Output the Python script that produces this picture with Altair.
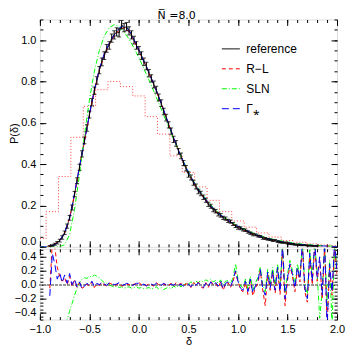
import altair as alt
import pandas as pd

FONT = "Liberation Sans"

# ---------------- data ----------------
model_x = [round(-1.0 + 0.05 * i, 3) for i in range(61)]
rl_y = [0, 0, 0.003, 0.014, 0.033, 0.068, 0.140, 0.255, 0.390, 0.510,
        0.635, 0.755, 0.855, 0.925, 0.980, 1.020, 1.050, 1.060, 1.040, 0.998,
        0.950, 0.895, 0.842, 0.785, 0.725, 0.660, 0.593, 0.527, 0.465, 0.410,
        0.360, 0.315, 0.276, 0.242, 0.211, 0.185, 0.161, 0.141, 0.124, 0.109,
        0.095, 0.083, 0.072, 0.062, 0.054, 0.046, 0.039, 0.033, 0.028, 0.023,
        0.019, 0.016, 0.013, 0.010, 0.008, 0.006, 0.005, 0.004, 0.003, 0.002,
        0.001]
sln_y = [0, 0, 0, 0, 0.001, 0.010, 0.060, 0.180, 0.350, 0.540,
         0.710, 0.850, 0.950, 1.020, 1.060, 1.075, 1.065, 1.040, 1.005, 0.962,
         0.915, 0.862, 0.808, 0.752, 0.695, 0.637, 0.580, 0.522, 0.466, 0.413,
         0.364, 0.320, 0.282, 0.248, 0.217, 0.190, 0.166, 0.146, 0.129, 0.114,
         0.100, 0.088, 0.077, 0.067, 0.058, 0.050, 0.043, 0.037, 0.032, 0.027,
         0.023, 0.019, 0.016, 0.013, 0.011, 0.009, 0.007, 0.005, 0.004, 0.003,
         0.002]
gam_y = [0, 0, 0.002, 0.010, 0.030, 0.070, 0.140, 0.260, 0.390, 0.510,
         0.640, 0.760, 0.860, 0.935, 0.985, 1.025, 1.058, 1.068, 1.048, 1.003,
         0.952, 0.898, 0.845, 0.787, 0.727, 0.662, 0.595, 0.528, 0.466, 0.411,
         0.361, 0.317, 0.278, 0.244, 0.213, 0.187, 0.163, 0.145, 0.128, 0.113,
         0.099, 0.087, 0.075, 0.064, 0.055, 0.047, 0.040, 0.034, 0.029, 0.024,
         0.020, 0.016, 0.013, 0.011, 0.009, 0.007, 0.005, 0.004, 0.003, 0.002,
         0.001]

ref_x = [round(-0.9 + 0.025 * i, 3) for i in range(109)]
ref_y = [0.003, 0.006, 0.012, 0.020, 0.030, 0.045, 0.068, 0.100,
         0.140, 0.190, 0.255, 0.320, 0.385, 0.450, 0.515, 0.575,
         0.640, 0.700, 0.755, 0.805, 0.855, 0.895, 0.925, 0.960,
         0.975, 1.010, 1.025, 1.040, 1.035, 1.075, 1.060, 1.065,
         1.045, 1.025, 1.000, 0.975, 0.950, 0.925, 0.895, 0.875,
         0.840, 0.815, 0.785, 0.760, 0.722, 0.695, 0.655, 0.625,
         0.590, 0.560, 0.520, 0.500, 0.462, 0.440, 0.405, 0.380,
         0.350, 0.335, 0.310, 0.292, 0.268, 0.258, 0.240, 0.225,
         0.205, 0.196, 0.178, 0.172, 0.158, 0.152, 0.140, 0.136,
         0.125, 0.122, 0.110, 0.100, 0.092, 0.090, 0.082, 0.080,
         0.072, 0.066, 0.060, 0.058, 0.052, 0.050, 0.042, 0.040,
         0.036, 0.034, 0.030, 0.031, 0.025, 0.022, 0.020, 0.020,
         0.016, 0.014, 0.013, 0.010, 0.011, 0.008, 0.007, 0.008,
         0.005, 0.005, 0.004, 0.004, 0.003]
ref_err = [0.003, 0.004, 0.005, 0.006, 0.007, 0.008, 0.009, 0.010,
           0.011, 0.012, 0.013, 0.014, 0.015, 0.015, 0.016, 0.016,
           0.017, 0.017, 0.018, 0.018, 0.018, 0.019, 0.019, 0.019,
           0.019, 0.020, 0.020, 0.020, 0.020, 0.020, 0.020, 0.020,
           0.020, 0.020, 0.019, 0.019, 0.019, 0.019, 0.018, 0.018,
           0.018, 0.018, 0.017, 0.017, 0.017, 0.016, 0.016, 0.016,
           0.015, 0.015, 0.015, 0.014, 0.014, 0.014, 0.013, 0.013,
           0.013, 0.012, 0.012, 0.012, 0.011, 0.011, 0.011, 0.010,
           0.010, 0.010, 0.009, 0.009, 0.009, 0.009, 0.008, 0.008,
           0.008, 0.008, 0.007, 0.007, 0.007, 0.007, 0.006, 0.006,
           0.006, 0.006, 0.006, 0.005, 0.005, 0.005, 0.005, 0.005,
           0.004, 0.004, 0.004, 0.004, 0.004, 0.004, 0.003, 0.003,
           0.003, 0.003, 0.003, 0.003, 0.003, 0.002, 0.002, 0.002,
           0.002, 0.002, 0.002, 0.002, 0.002]

hist_edges = [-1.0, -0.9375, -0.8125, -0.6875, -0.5625, -0.4375, -0.3125, -0.1875,
              -0.0625, 0.0625, 0.1875, 0.3125, 0.4375, 0.5625, 0.6875, 0.8125,
              0.9375, 1.0625, 1.1875, 1.3125, 1.4375, 1.5625, 1.6875, 1.8125,
              1.9375, 2.0]
hist_vals = [0.04, 0.17, 0.34, 0.53, 0.68, 0.76, 0.80, 0.775,
             0.73, 0.63, 0.545, 0.44, 0.36, 0.29, 0.225, 0.17,
             0.125, 0.095, 0.067, 0.047, 0.030, 0.022, 0.014, 0.009,
             0.005, 0.005]

res_x = [round(-0.9 + 0.025 * i, 3) for i in range(117)]
res_rl = [-0.05, 0.60, 0.55, 0.25, 0.12, 0.05, 0.10, 0.00,
          0.12, -0.02, 0.06, -0.04, 0.03, -0.05, -0.03, 0.01,
          -0.02, 0.04, -0.04, 0.01, -0.01, 0.03, 0.00, -0.02,
          0.02, 0.01, -0.01, 0.00, 0.02, -0.02, -0.01, 0.01,
          0.00, -0.02, 0.01, 0.01, 0.03, 0.00, 0.00, -0.01,
          0.01, 0.00, -0.02, 0.03, 0.00, 0.00, 0.01, -0.01,
          -0.01, 0.02, -0.02, 0.03, 0.00, 0.02, -0.01, 0.01,
          0.02, -0.04, 0.03, 0.00, 0.04, -0.03, -0.05, 0.03,
          -0.04, 0.05, 0.00, 0.02, -0.04, 0.04, -0.08, 0.01,
          0.03, -0.04, 0.05, 0.18, 0.04, -0.07, -0.10, 0.03,
          -0.14, 0.06, -0.16, -0.05, 0.02, 0.20, -0.08, -0.30,
          0.15, -0.08, 0.18, -0.12, 0.22, -0.14, 0.50, -0.30,
          0.06, 0.28, 0.12, -0.10, 0.22, 0.04, 0.55, -0.10,
          -0.25, 0.40, 0.00, 0.55, 0.05, 0.35, -0.20, 0.55,
          -0.60, 0.25, -0.15, 0.55, 0.15]
res_sln = [None, None, None, None, None, None, -0.70, -0.50,
           -0.38, -0.27, -0.15, -0.05, 0.03, 0.08, 0.10, 0.09,
           0.12, 0.11, 0.14, 0.12, 0.10, 0.06, 0.03, 0.02,
           0.00, -0.02, -0.03, -0.02, -0.04, -0.03, -0.05, -0.04,
           -0.03, -0.05, -0.04, -0.03, -0.05, -0.04, -0.06, -0.05,
           -0.04, -0.06, -0.05, -0.03, -0.06, -0.04, -0.07, -0.05,
           -0.04, -0.06, -0.02, -0.04, -0.01, -0.03, 0.00, 0.02,
           0.01, 0.04, 0.02, 0.05, 0.03, 0.06, 0.04, 0.07,
           0.05, 0.08, 0.04, 0.06, 0.02, 0.07, 0.00, 0.05,
           0.06, 0.02, 0.10, 0.30, 0.08, -0.02, -0.04, 0.08,
           -0.06, 0.12, -0.08, 0.02, 0.10, 0.26, 0.00, -0.10,
           0.22, 0.00, 0.25, -0.02, 0.30, -0.05, 0.60, -0.12,
           0.15, 0.35, 0.20, 0.00, 0.30, 0.12, 0.60, 0.00,
           -0.15, 0.50, 0.10, 0.60, 0.15, -0.48, -0.10, 0.60,
           -0.30, 0.35, -0.60, 0.60, 0.25]
res_gam = [-0.16, 0.45, 0.30, 0.08, 0.17, 0.03, 0.14, 0.02,
           0.16, 0.00, 0.08, -0.03, 0.04, -0.06, -0.02, 0.02,
           -0.01, 0.05, -0.03, 0.02, 0.00, 0.04, 0.01, -0.01,
           0.03, 0.02, 0.00, 0.01, 0.03, -0.01, 0.00, 0.02,
           0.01, -0.01, 0.00, 0.02, 0.02, -0.01, 0.01, -0.02,
           0.00, 0.01, -0.01, 0.02, 0.01, -0.01, 0.02, 0.00,
           -0.02, 0.01, -0.01, 0.02, -0.01, 0.01, -0.02, 0.00,
           0.01, -0.03, 0.02, -0.01, 0.03, -0.02, -0.04, 0.02,
           -0.03, 0.04, -0.01, 0.03, -0.02, 0.05, -0.06, 0.02,
           0.04, -0.02, 0.06, 0.20, 0.05, -0.05, -0.08, 0.05,
           -0.10, 0.08, -0.12, -0.02, 0.05, 0.22, -0.05, -0.15,
           0.18, -0.05, 0.20, -0.08, 0.25, -0.10, 0.60, -0.20,
           0.10, 0.30, 0.15, -0.05, 0.25, 0.08, 0.60, -0.05,
           -0.20, 0.45, 0.05, 0.60, 0.10, 0.40, -0.15, 0.60,
           -0.60, 0.30, -0.10, 0.60, 0.20]

series_names = ["reference", "R\u2212L", "SLN", "\u0393\u204e"]
series_colors = ["#000000", "#ff0000", "#00ff00", "#0000ff"]
series_dash = [[1, 0], [4, 3], [5, 2, 1, 2], [7, 4]]

x_major = [-1.0, -0.5, 0.0, 0.5, 1.0, 1.5, 2.0]
x_minor = [round(-1.0 + 0.1 * i, 2) for i in range(31)]
top_y_major = [0.0, 0.2, 0.4, 0.6, 0.8, 1.0]
top_y_minor = [round(0.05 * i, 2) for i in range(23)]
bot_y_major = [-0.4, -0.2, 0.0, 0.2, 0.4]
bot_y_minor = [round(-0.5 + 0.05 * i, 2) for i in range(21)]

# ---------------- frames ----------------
curves = pd.concat([
    pd.DataFrame({"x": ref_x, "y": ref_y, "series": series_names[0]}),
    pd.DataFrame({"x": model_x, "y": rl_y, "series": series_names[1]}),
    pd.DataFrame({"x": model_x, "y": sln_y, "series": series_names[2]}),
    pd.DataFrame({"x": model_x, "y": gam_y, "series": series_names[3]}),
], ignore_index=True)
refdf = pd.DataFrame({"x": ref_x, "y": ref_y, "err": ref_err})
refdf["lo"] = refdf["y"] - refdf["err"]
refdf["hi"] = refdf["y"] + refdf["err"]
histdf = pd.DataFrame({"x": hist_edges, "y": hist_vals})
resdf = pd.DataFrame({"x": res_x, "rl": res_rl, "sln": res_sln, "gam": res_gam})

XDOM = [-1.0, 2.0]
TOPDOM = [0.0, 1.1]
BOTDOM = [-0.5, 0.515]


def sx():
    return alt.Scale(domain=XDOM, nice=False, zero=False)


def sy(dom):
    return alt.Scale(domain=dom, nice=False, zero=False)


def ax(orient, values, major, labels=False, title=None, flush=False):
    kw = dict(orient=orient, values=values,
              tickSize={"expr": "-6" if major else "-3"},
              domain=False, grid=False, labels=labels, ticks=True,
              tickColor="black", tickWidth=1, title=title, minExtent=0)
    if labels:
        kw.update(labelPadding=10, format=".1f", labelFont=FONT,
                  labelFontSize=11, labelColor="black", labelFlush=flush)
    if title is not None:
        kw.update(titleFont=FONT, titleFontSize=11, titleFontWeight="normal",
                  titleColor="black", titlePadding=1)
    return alt.Axis(**kw)


legend = alt.Legend(orient="none", legendX=182, legendY=20, title=None,
                    symbolType="stroke", symbolSize=324, symbolStrokeWidth=1,
                    labelFont=FONT, labelFontSize=12, labelColor="black",
                    labelOffset=6, rowPadding=4)

W = 298
H_TOP = 228
H_BOT = 71

hist = alt.Chart(histdf).mark_line(
    interpolate="step-after", color="#ff4040", strokeDash=[1, 2], strokeWidth=1, clip=True
).encode(
    x=alt.X("x:Q", scale=sx(), axis=ax("bottom", x_major, True)),
    y=alt.Y("y:Q", scale=sy(TOPDOM),
            axis=ax("left", top_y_major, True, True, "P(\u03b4)", flush=True)),
)

lines = alt.Chart(curves).mark_line(strokeWidth=1, clip=True).encode(
    x=alt.X("x:Q", scale=sx(), axis=ax("bottom", x_minor, False)),
    y=alt.Y("y:Q", scale=sy(TOPDOM), axis=ax("left", top_y_minor, False)),
    color=alt.Color("series:N", scale=alt.Scale(domain=series_names, range=series_colors),
                    legend=legend),
    strokeDash=alt.StrokeDash("series:N", scale=alt.Scale(domain=series_names, range=series_dash),
                              legend=legend),
)

ebars = alt.Chart(refdf).mark_rule(color="black", strokeWidth=1, clip=True).encode(
    x=alt.X("x:Q", scale=sx(), axis=ax("top", x_major, True)),
    y=alt.Y("lo:Q", scale=sy(TOPDOM), axis=ax("right", top_y_major, True)),
    y2="hi:Q",
)

caps = alt.Chart(refdf).transform_fold(["lo", "hi"], as_=["k", "v"]).mark_tick(
    orient="horizontal", size=4, thickness=1, color="black", clip=True
).encode(
    x=alt.X("x:Q", scale=sx(), axis=ax("top", x_minor, False)),
    y=alt.Y("v:Q", scale=sy(TOPDOM), axis=ax("right", top_y_minor, False)),
)

top = alt.layer(hist, lines, ebars, caps).resolve_scale(
    x="independent", y="independent"
).properties(width=W, height=H_TOP)

zero = alt.Chart(resdf).mark_rule(color="#999999", strokeDash=[2, 2], strokeWidth=1).encode(
    x=alt.X(datum=-1.0, scale=sx(), axis=ax("bottom", x_major, True, True, "\u03b4")),
    x2=alt.X2(datum=2.0),
    y=alt.Y(datum=0.0, scale=sy(BOTDOM), axis=ax("left", bot_y_major, True, True)),
)

r_sln = alt.Chart(resdf).mark_line(color="#00ff00", strokeDash=[5, 2, 1, 2], strokeWidth=1, clip=True).encode(
    x=alt.X("x:Q", scale=sx(), axis=ax("bottom", x_minor, False)),
    y=alt.Y("sln:Q", scale=sy(BOTDOM), axis=ax("left", bot_y_minor, False)),
)
r_rl = alt.Chart(resdf).mark_line(color="#ff0000", strokeDash=[4, 3], strokeWidth=1, clip=True).encode(
    x=alt.X("x:Q", scale=sx(), axis=ax("top", x_major, True)),
    y=alt.Y("rl:Q", scale=sy(BOTDOM), axis=ax("right", bot_y_major, True)),
)
r_gam = alt.Chart(resdf).mark_line(color="#0000ff", strokeDash=[7, 4], strokeWidth=1, clip=True).encode(
    x=alt.X("x:Q", scale=sx(), axis=ax("top", x_minor, False)),
    y=alt.Y("gam:Q", scale=sy(BOTDOM), axis=ax("right", bot_y_minor, False)),
)

bottom = alt.layer(zero, r_sln, r_rl, r_gam).resolve_scale(
    x="independent", y="independent"
).properties(width=W, height=H_BOT)

chart = alt.vconcat(top, bottom, spacing=0).properties(
    title=alt.Title("N\u0305 =8.0", font="DejaVu Sans", fontSize=11, fontWeight="normal",
                    color="black", anchor="middle", offset=-3),
    padding={"left": 0, "top": 2, "right": 0, "bottom": 0},
).configure_view(stroke="black", strokeWidth=1).configure(background="white")

chart.save("out.html", embed_options={"renderer": "svg", "actions": False})
